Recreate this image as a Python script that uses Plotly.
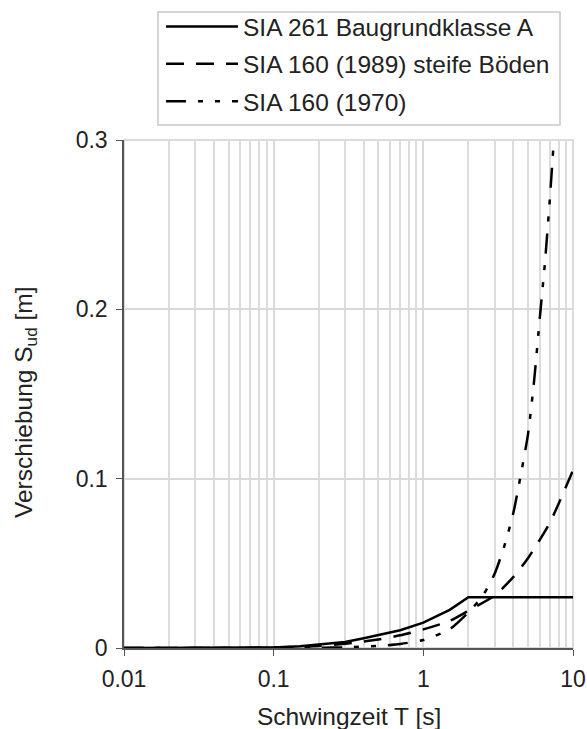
import plotly.graph_objects as go

# Schwingzeit T [s]
T_261 = [0.01, 0.05, 0.1, 0.15, 0.2, 0.3, 0.4, 0.5, 0.7, 1.0, 1.5, 2.0, 3.0, 5.0, 10.0]
S_261 = [0.0, 0.0001, 0.0003, 0.001, 0.0019, 0.0036, 0.0058, 0.0075, 0.0105, 0.015, 0.0225, 0.030, 0.030, 0.030, 0.030]

T_1989 = [0.01, 0.05, 0.1, 0.2, 0.3, 0.5, 0.7, 1.0, 1.5, 2.0, 3.0, 4.0, 5.0, 7.0, 10.0]
S_1989 = [0.0, 0.0, 0.0003, 0.0012, 0.0025, 0.005, 0.0075, 0.011, 0.016, 0.022, 0.031, 0.042, 0.053, 0.074, 0.105]

T_1970 = [0.01, 0.05, 0.1, 0.2, 0.3, 0.5, 0.7, 1.0, 1.5, 2.0, 2.5, 3.0, 3.5, 4.0, 4.43, 5.0, 5.5, 6.0, 6.5, 7.0, 7.45]
S_1970 = [0.0, 0.0, 0.00005, 0.0002, 0.0004, 0.0012, 0.0024, 0.0047, 0.011, 0.021, 0.031, 0.044, 0.061, 0.08, 0.1, 0.126, 0.158, 0.195, 0.228, 0.265, 0.3]

names = ["SIA 261 Baugrundklasse A", "SIA 160 (1989) steife Böden", "SIA 160 (1970)"]

x_tickvals = [0.01, 0.1, 1, 10]
x_ticktext = ["0.01", "0.1", "1", "10"]
y_tickvals = [0, 0.1, 0.2, 0.3]
y_ticktext = ["0", "0.1", "0.2", "0.3"]
x_title = "Schwingzeit T [s]"
y_title = "Verschiebung S<sub>ud</sub> [m]"

FONT = "Liberation Sans"
TFS = 23     # tick labels
AFS = 24.5   # axis titles
LFS = 24.5   # legend

fig = go.Figure()
fig.add_trace(go.Scatter(x=T_261, y=S_261, mode="lines", name=names[0], legendgroup="a",
                         line=dict(color="black", width=2.5, dash="solid")))
fig.add_trace(go.Scatter(x=T_1989, y=S_1989, mode="lines", name=names[1], legendgroup="b",
                         line=dict(color="black", width=2.5, dash="18px,12px", shape="spline", smoothing=0.6)))
fig.add_trace(go.Scatter(x=T_1970, y=S_1970, mode="lines", name=names[2], legendgroup="c",
                         line=dict(color="black", width=2.5, dash="20px,12px,5px,12px,5px,12px", shape="spline", smoothing=0.6)))

W, H = 587, 729
L, R, T, B = 124, 573, 140, 648
PW, PH = R - L, B - T


def px_x(p):
    return (p - L) / PW


def px_y(p):
    return (B - p) / PH


fig.update_layout(
    width=W, height=H,
    margin=dict(l=L, r=W - R, t=T, b=H - B, autoexpand=False),
    paper_bgcolor="white", plot_bgcolor="white",
    font=dict(family=FONT, size=TFS, color="#222"),
    showlegend=True,
    legend=dict(x=px_x(161), y=px_y(4), xanchor="left", yanchor="top",
                borderwidth=0, bgcolor="rgba(0,0,0,0)",
                font=dict(family=FONT, size=LFS, color="#222"),
                tracegroupgap=2.5, itemwidth=72),
    shapes=[
        dict(type="rect", xref="paper", yref="paper", x0=0, x1=1, y0=0, y1=1,
             line=dict(color="#d0d0d0", width=1.5), layer="below"),
        dict(type="rect", xref="paper", yref="paper", x0=px_x(158), x1=px_x(560),
             y0=px_y(125), y1=px_y(12), line=dict(color="#c8c8c8", width=1.5),
             fillcolor="rgba(0,0,0,0)", layer="above"),
    ],
    annotations=[
        dict(text=x_title, xref="paper", yref="paper", x=px_x(348.5), y=px_y(716),
             xanchor="center", yanchor="middle", showarrow=False, font=dict(family=FONT, size=AFS, color="#222")),
        dict(text=y_title, xref="paper", yref="paper", x=px_x(25), y=px_y(402),
             xanchor="center", yanchor="middle", textangle=-90, showarrow=False,
             font=dict(family=FONT, size=AFS, color="#222")),
    ],
)

fig.update_xaxes(
    type="log", range=[-2, 1], automargin=False,
    tickvals=x_tickvals, ticktext=x_ticktext,
    ticks="outside", ticklen=6, tickcolor="#555",
    showline=True, linecolor="#555", linewidth=1.5,
    showgrid=True, gridcolor="#d9d9d9", gridwidth=1.5,
    minor=dict(dtick="D1", showgrid=True, gridcolor="#dcdcdc", gridwidth=1.5, ticks=""),
    zeroline=False,
    tickfont=dict(family=FONT, size=TFS),
    ticklabelstandoff=4,
)
fig.update_yaxes(
    range=[0, 0.3], automargin=False,
    tickvals=y_tickvals, ticktext=y_ticktext,
    ticks="outside", ticklen=6, tickcolor="#555",
    showline=True, linecolor="#555", linewidth=1.5,
    showgrid=True, gridcolor="#d9d9d9", gridwidth=1.5,
    zeroline=False,
    tickfont=dict(family=FONT, size=TFS),
    ticklabelstandoff=4,
)

fig.write_html("out.html", config={"displayModeBar": False},
               post_script="document.body.style.margin='0';document.body.style.overflow='hidden';")
